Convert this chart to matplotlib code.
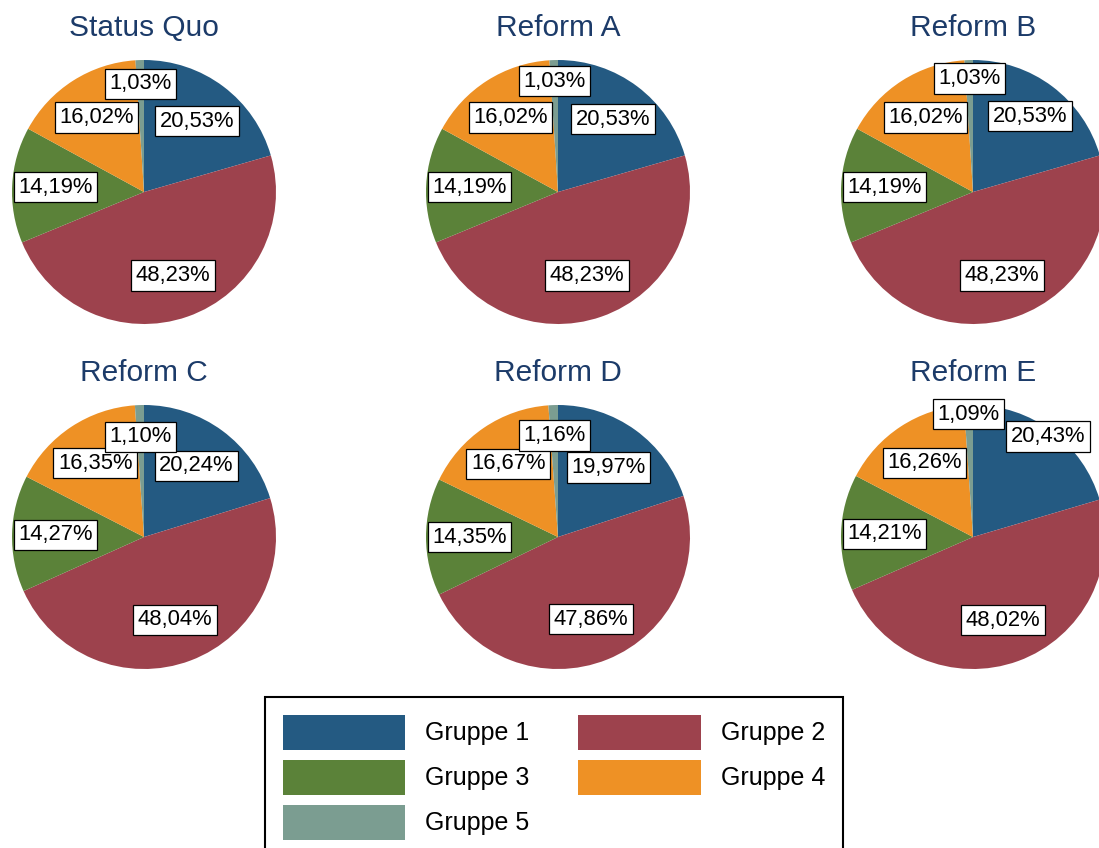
import matplotlib
matplotlib.use("Agg")
import matplotlib.pyplot as plt
from matplotlib.patches import Patch
import numpy as np

plt.rcParams['font.family'] = ['Liberation Sans', 'DejaVu Sans']

# ---- data ----
groups = ["Gruppe 1", "Gruppe 2", "Gruppe 3", "Gruppe 4", "Gruppe 5"]
titles = ["Status Quo", "Reform A", "Reform B", "Reform C", "Reform D", "Reform E"]
status_quo = [20.53, 48.23, 14.19, 16.02, 1.03]
reform_a = [20.53, 48.23, 14.19, 16.02, 1.03]
reform_b = [20.53, 48.23, 14.19, 16.02, 1.03]
reform_c = [20.24, 48.04, 14.27, 16.35, 1.10]
reform_d = [19.97, 47.86, 14.35, 16.67, 1.16]
reform_e = [20.43, 48.02, 14.21, 16.26, 1.09]
series = [status_quo, reform_a, reform_b, reform_c, reform_d, reform_e]

# ---- style / layout ----
colors = ["#245a82", "#9d424d", "#5b8239", "#ee9125", "#7b9d91"]
title_color = "#1c3b69"
W, H = 1099, 848
fig = plt.figure(figsize=(W / 100, H / 100), dpi=100)
fig.patch.set_facecolor("white")

R = 132
centers_x = [144, 558, 973]
centers_y = [192, 537]
title_base = [36, 381]
# radial label distance (fraction of radius) per panel, per wedge
label_dist = [
    [0.67, 0.67, 0.67, 0.67, 0.82],
    [0.69, 0.67, 0.67, 0.67, 0.84],
    [0.72, 0.67, 0.67, 0.67, 0.86],
    [0.67, 0.67, 0.67, 0.67, 0.76],
    [0.65, 0.67, 0.67, 0.67, 0.77],
    [0.95, 0.67, 0.67, 0.67, 0.93],
]

for i, (ttl, vals) in enumerate(zip(titles, series)):
    row, col = divmod(i, 3)
    cx, cy = centers_x[col], centers_y[row]
    ax = fig.add_axes([(cx - R) / W, 1 - (cy + R) / H, 2 * R / W, 2 * R / H])
    wedges, _ = ax.pie(vals, colors=colors, startangle=90, counterclock=False,
                       radius=1.0, wedgeprops=dict(linewidth=0))
    ax.set_xlim(-1, 1)
    ax.set_ylim(-1, 1)
    ax.set_aspect("equal")
    for w, v, d in zip(wedges, vals, label_dist[i]):
        th = np.deg2rad((w.theta1 + w.theta2) / 2)
        ax.text(d * np.cos(th), d * np.sin(th),
                f"{v:.2f}".replace(".", ",") + "%",
                ha="center", va="center", fontsize=15.8, color="black",
                bbox=dict(boxstyle="square,pad=0.21", fc="white", ec="black", lw=0.9),
                clip_on=False)
    fig.text(cx / W, 1 - title_base[row] / H, ttl, ha="center", va="baseline",
             fontsize=21.5, color=title_color)

handles = [Patch(facecolor=c, edgecolor="none", label=g) for c, g in zip(colors, groups)]
order = [0, 2, 4, 1, 3]
leg = fig.legend([handles[k] for k in order], [groups[k] for k in order],
                 ncol=2, loc="upper left", bbox_to_anchor=(265 / W, 1 - 697 / H),
                 frameon=True, fancybox=False, edgecolor="black", framealpha=1,
                 fontsize=18, handlelength=4.9, handleheight=1.78,
                 handletextpad=0.8, columnspacing=1.95, labelspacing=0.4,
                 borderpad=0.7, borderaxespad=0)
leg.get_frame().set_linewidth(1.5)

fig.savefig("out.png", dpi=100, facecolor="white")
